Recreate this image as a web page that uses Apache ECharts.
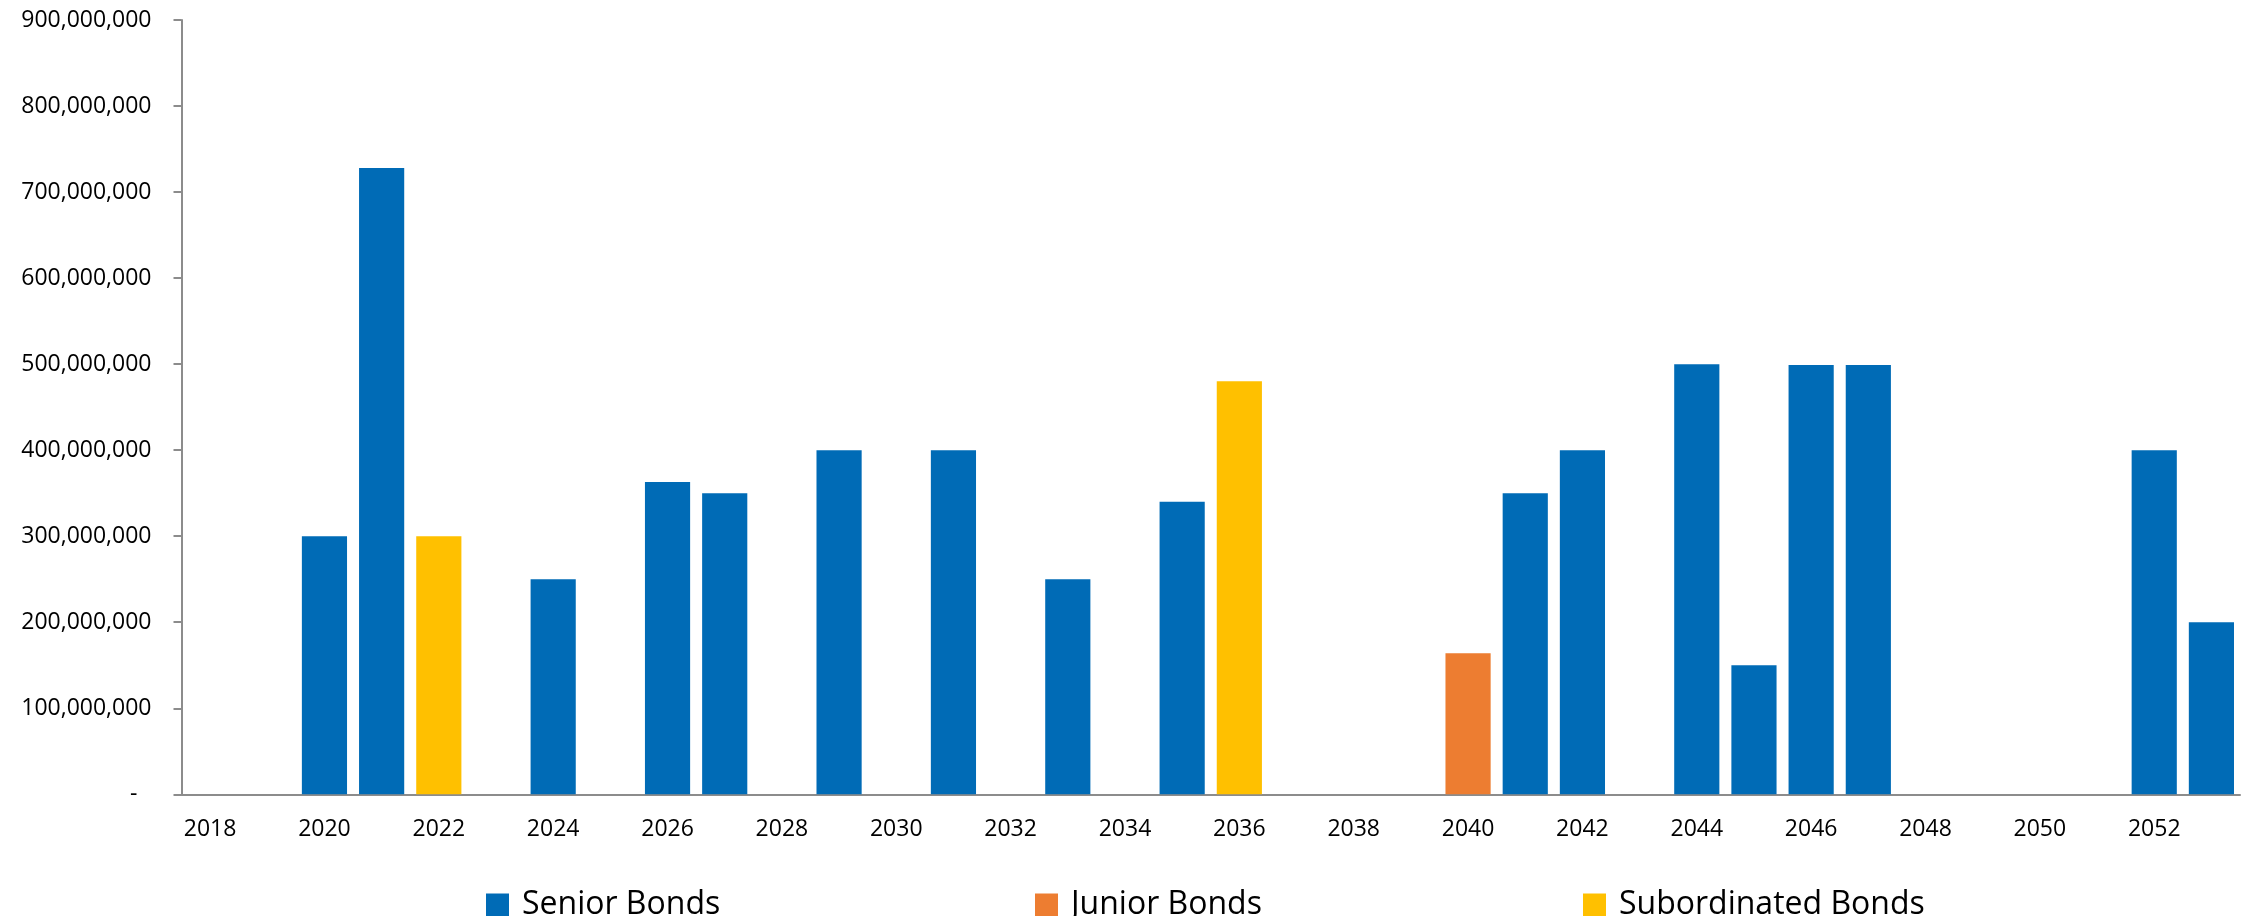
<!DOCTYPE html>
<html>
<head>
<meta charset="utf-8">
<script src="https://cdn.jsdelivr.net/npm/echarts@6/dist/echarts.min.js"></script>
<style>
html,body{margin:0;padding:0;background:#fff;}
#chart{width:2249px;height:916px;}
</style>
</head>
<body>
<div id="chart"></div>
<script>
const years = ['2018','2019','2020','2021','2022','2023','2024','2025','2026','2027','2028','2029','2030','2031','2032','2033','2034','2035','2036','2037','2038','2039','2040','2041','2042','2043','2044','2045','2046','2047','2048','2049','2050','2051','2052','2053'];
const seniorBonds = [null,null,300000000,728000000,null,null,250000000,null,363000000,350000000,null,400000000,null,400000000,null,250000000,null,340000000,null,null,null,null,null,350000000,400000000,null,500000000,150000000,499000000,499000000,null,null,null,null,400000000,200000000];
const juniorBonds = [null,null,null,null,null,null,null,null,null,null,null,null,null,null,null,null,null,null,null,null,null,null,164000000,null,null,null,null,null,null,null,null,null,null,null,null,null];
const subordinatedBonds = [null,null,null,null,300000000,null,null,null,null,null,null,null,null,null,null,null,null,null,480000000,null,null,null,null,null,null,null,null,null,null,null,null,null,null,null,null,null];
const yTicks = {min: 0, max: 900000000, interval: 100000000};

const FONT = '"Open Sans", "Liberation Sans", sans-serif';
const chart = echarts.init(document.getElementById('chart'), null, {renderer: 'canvas'});
const legendBase = {
  orient: 'horizontal', top: 884, itemWidth: 23, itemHeight: 23,
  icon: 'rect',
  textStyle: {fontFamily: FONT, fontSize: 32, color: '#000', padding: [0, 0, 0, 8]}
};
chart.setOption({
  animation: false,
  backgroundColor: '#ffffff',
  grid: {left: 181.5, right: 9, top: 20, bottom: 121.7, containLabel: false},
  legend: [
    Object.assign({}, legendBase, {data: ['Senior Bonds'], left: 481}),
    Object.assign({}, legendBase, {data: ['Junior Bonds'], left: 1030}),
    Object.assign({}, legendBase, {data: ['Subordinated Bonds'], left: 1578})
  ],
  xAxis: {
    type: 'category',
    data: years,
    axisLine: {lineStyle: {color: '#8c8c8c', width: 2}},
    axisTick: {show: false},
    axisLabel: {interval: 1, margin: 24, fontFamily: FONT, fontSize: 23, color: '#000'}
  },
  yAxis: {
    type: 'value',
    min: yTicks.min, max: yTicks.max, interval: yTicks.interval,
    splitLine: {show: false},
    axisLine: {show: true, lineStyle: {color: '#8c8c8c', width: 2}},
    axisTick: {show: true, length: 8, lineStyle: {color: '#8c8c8c', width: 2}},
    axisLabel: {
      margin: 30, fontFamily: FONT, fontSize: 23, color: '#000',
      formatter: function (v) {
        if (v === 0) return '{d|-}';
        return v.toString().replace(/\B(?=(\d{3})+(?!\d))/g, ',');
      },
      rich: {d: {fontFamily: FONT, fontSize: 23, color: '#000', padding: [0, 14, 0, 0]}}
    }
  },
  series: [
    {name: 'Senior Bonds', type: 'bar', stack: 'total', data: seniorBonds, barCategoryGap: '21%', itemStyle: {color: '#006BB6'}},
    {name: 'Junior Bonds', type: 'bar', stack: 'total', data: juniorBonds, itemStyle: {color: '#ED7D31'}},
    {name: 'Subordinated Bonds', type: 'bar', stack: 'total', data: subordinatedBonds, itemStyle: {color: '#FFC000'}}
  ]
});
</script>
</body>
</html>
